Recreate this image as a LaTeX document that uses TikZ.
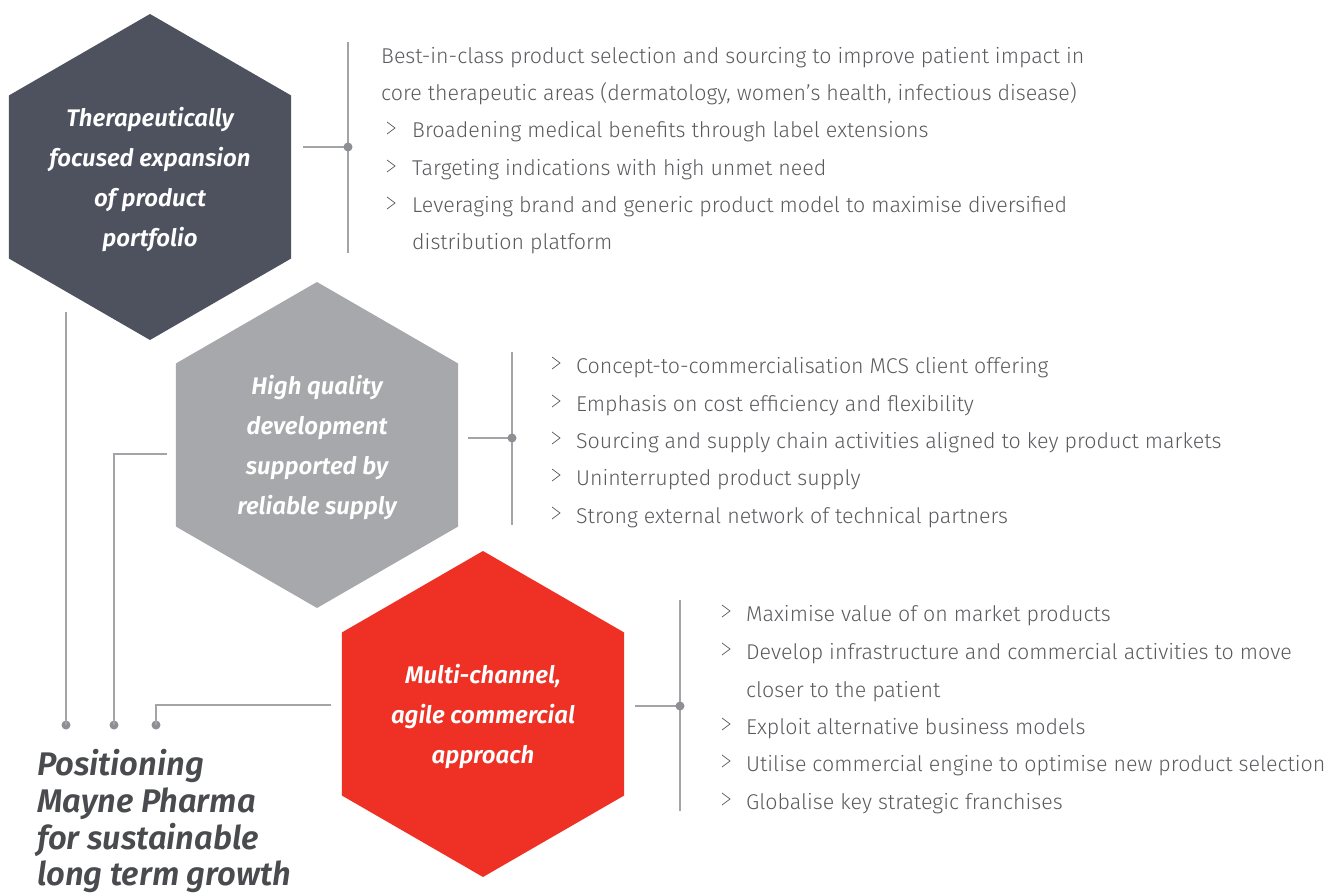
\documentclass[tikz,border=0pt]{standalone}
\usepackage{fontspec}
\setmainfont{Fira Sans}[UprightFont=* Light, ItalicFont=* Light Italic, BoldFont=* SemiBold, BoldItalicFont=* SemiBold Italic]
\usetikzlibrary{shapes.geometric}
\definecolor{hexdark}{HTML}{4D525E}
\definecolor{hexgrey}{HTML}{A7A8AB}
\definecolor{hexred}{HTML}{EE3124}
\definecolor{linegrey}{HTML}{A3A4A8}
\definecolor{dotgrey}{HTML}{8E8F93}
\definecolor{txtgrey}{HTML}{5A5B5E}
\definecolor{titlegrey}{HTML}{4A4B4E}
\tikzset{
  hexshape/.style={regular polygon, regular polygon sides=6, shape border rotate=30, minimum size=326pt, inner sep=0pt, draw=none},
  hextext/.style={align=center, text=white, inner sep=0pt, font=\fontsize{24}{40}\selectfont\bfseries\itshape},
  conn/.style={draw=linegrey, line width=1.7pt},
  junction/.style={circle, fill=dotgrey, inner sep=0pt, minimum size=9pt},
  itemtext/.style={anchor=base west, inner sep=0pt, text=txtgrey, font=\fontsize{21.4}{24}\selectfont},
  chev/.style={draw=txtgrey, line width=0.7pt, line join=miter},
}
\newcommand{\chevron}[2]{\draw[chev] (#1,#2-16) -- (#1+8,#2-10) -- (#1,#2-4);}
\begin{document}
\begin{tikzpicture}[x=1pt,y=-1pt]
\useasboundingbox (0,0) rectangle (1333,893);

% hexagons
\node[hexshape, fill=hexdark] (hexA) at (150,177) {};
\node[hexshape, fill=hexgrey] (hexB) at (317,445) {};
\node[hexshape, fill=hexred]  (hexC) at (483,714) {};
\node[hextext] (tA) at (150,180) {Therapeutically\\focused expansion\\of product\\portfolio};
\node[hextext] (tB) at (317,448) {High quality\\development\\supported by\\reliable supply};
\node[hextext] (tC) at (483,717) {Multi-channel,\\agile commercial\\approach};

% bracket connectors on the right
\coordinate (aL) at (303,147); \coordinate (aJ) at (348,147);
\coordinate (aT) at (348,42);  \coordinate (aB) at (348,253);
\draw[conn] (aT) -- (aB);
\draw[conn] (aL) -- (aJ);
\node[junction] (dA) at (aJ) {};

\coordinate (bL) at (468,438); \coordinate (bJ) at (512,438);
\coordinate (bT) at (512,352); \coordinate (bB) at (512,525);
\draw[conn] (bT) -- (bB);
\draw[conn] (bL) -- (bJ);
\node[junction] (dB) at (bJ) {};

\coordinate (cL) at (635,706); \coordinate (cJ) at (680,706);
\coordinate (cT) at (680,600); \coordinate (cB) at (680,811);
\draw[conn] (cT) -- (cB);
\draw[conn] (cL) -- (cJ);
\node[junction] (dC) at (cJ) {};

% leads down to the title
\coordinate (l1s) at (66,312);
\node[junction] (e1) at (66,725) {};
\draw[conn] (l1s) -- (e1.center);
\coordinate (l2s) at (167,454);
\node[junction] (e2) at (114,725) {};
\draw[conn] (l2s) -| (e2.center);
\coordinate (l3s) at (331,705);
\node[junction] (e3) at (156,725) {};
\draw[conn] (l3s) -| (e3.center);

% title
\node[anchor=north west, align=left, inner sep=0pt, text=titlegrey,
      font=\fontsize{32.7}{36.8}\selectfont\bfseries\itshape] (title) at (37,749)
  {Positioning\\Mayne Pharma\\for sustainable\\long term growth};

% first block
\node[itemtext] (a0) at (381,64) {Best-in-class product selection and sourcing to improve patient impact in};
\node[itemtext] (a1) at (381,101) {core therapeutic areas (dermatology, women’s health, infectious disease)};
\chevron{387}{138}
\node[itemtext] (a2) at (412,138) {Broadening medical benefits through label extensions};
\chevron{387}{176}
\node[itemtext] (a3) at (412,176) {Targeting indications with high unmet need};
\chevron{387}{213}
\node[itemtext] (a4) at (412,213) {Leveraging brand and generic product model to maximise diversified};
\node[itemtext] (a5) at (412,250) {distribution platform};

% second block
\chevron{552}{373}
\node[itemtext] (b1) at (576,373) {Concept-to-commercialisation MCS client offering};
\chevron{552}{411}
\node[itemtext] (b2) at (576,411) {Emphasis on cost efficiency and flexibility};
\chevron{552}{448}
\node[itemtext] (b3) at (576,448) {Sourcing and supply chain activities aligned to key product markets};
\chevron{552}{485}
\node[itemtext] (b4) at (576,485) {Uninterrupted product supply};
\chevron{552}{523}
\node[itemtext] (b5) at (576,523) {Strong external network of technical partners};

% third block
\chevron{722}{621}
\node[itemtext] (c1) at (746,621) {Maximise value of on market products};
\chevron{722}{659}
\node[itemtext] (c2) at (746,659) {Develop infrastructure and commercial activities to move};
\node[itemtext] (c3) at (746,697) {closer to the patient};
\chevron{722}{734}
\node[itemtext] (c4) at (746,734) {Exploit alternative business models};
\chevron{722}{771}
\node[itemtext] (c5) at (746,771) {Utilise commercial engine to optimise new product selection};
\chevron{722}{809}
\node[itemtext] (c6) at (746,809) {Globalise key strategic franchises};
\end{tikzpicture}
\end{document}
